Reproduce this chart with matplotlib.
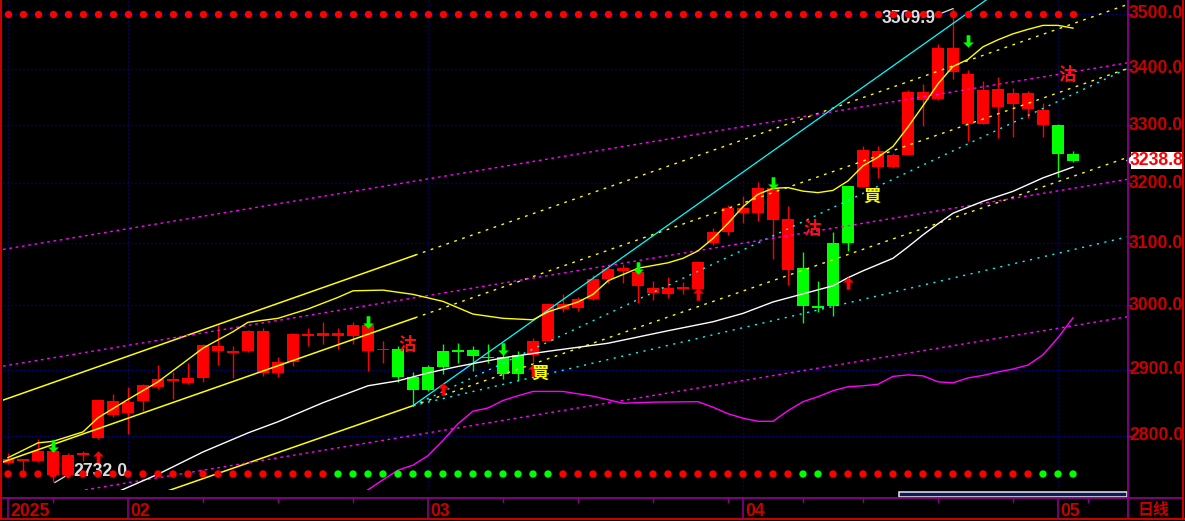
import numpy as np
import matplotlib
matplotlib.use("Agg")
import matplotlib.pyplot as plt
import matplotlib.transforms as mtrans
from matplotlib.path import Path
from matplotlib.patches import Rectangle, Polygon
from matplotlib.lines import Line2D

# ---------------- data ----------------
opens = [2760.0, 2763.2, 2762.6, 2743.2, 2743.2, 2772.3, 2797.5, 2831.6, 2833.6, 2851.7,
         2873.8, 2882.1, 2879.8, 2887.8, 2927.9, 2925.9, 2929.0, 2895.3, 2895.3, 2912.3,
         2951.3, 2951.6, 2951.6, 2951.3, 2929.0, 2929.8, 2932.1, 2888.4, 2903.7, 2929.0,
         2929.8, 2930.6, 2920.0, 2920.0, 2922.3, 2922.5, 2944.6, 2994.5, 2996.6, 3010.5,
         3042.7, 3055.2, 3030.3, 3019.4, 3019.0, 3026.6, 3026.9, 3100.5, 3119.5, 3149.7,
         3149.7, 3139.5, 3057.3, 3060.5, 2999.7, 3100.8, 3196.2, 3194.2, 3228.4, 3228.4,
         3249.0, 3343.9, 3345.7, 3394.9, 3302.8, 3302.8, 3332.4, 3337.7, 3328.8, 3300.5,
         3300.5, 3250.7]
highs = [2774.8, 2766.5, 2795.2, 2779.6, 2774.2, 2777.5, 2854.0, 2863.3, 2872.7, 2878.3,
         2907.2, 2895.6, 2910.8, 2939.0, 2969.1, 2936.8, 2960.7, 2964.9, 2919.2, 2957.1,
         2964.9, 2974.3, 2964.9, 2974.6, 2977.4, 2943.5, 2936.8, 2896.1, 2906.9, 2939.6,
         2940.7, 2936.8, 2939.6, 2927.5, 2928.2, 2949.0, 3003.0, 3018.5, 3012.9, 3048.9,
         3063.7, 3066.9, 3066.9, 3039.5, 3044.8, 3037.4, 3071.8, 3126.2, 3164.2, 3179.2,
         3202.6, 3206.0, 3162.5, 3085.8, 3039.5, 3118.8, 3196.5, 3264.4, 3263.2, 3251.9,
         3361.9, 3373.6, 3445.3, 3509.9, 3397.9, 3378.4, 3385.0, 3366.0, 3360.2, 3339.0,
         3302.2, 3254.6]
lows = [2759.2, 2747.6, 2762.1, 2732.0, 2738.4, 2762.6, 2795.6, 2827.9, 2803.0, 2837.7,
        2870.8, 2855.7, 2877.3, 2880.3, 2907.8, 2887.8, 2926.7, 2890.8, 2888.9, 2906.2,
        2935.7, 2939.9, 2931.4, 2939.1, 2898.3, 2909.4, 2880.3, 2845.2, 2868.0, 2893.4,
        2910.9, 2898.3, 2910.9, 2886.3, 2883.6, 2912.3, 2944.0, 2989.9, 2991.4, 3008.9,
        3035.5, 3035.8, 3004.5, 3008.9, 3012.1, 3018.5, 3026.5, 3097.6, 3114.2, 3133.0,
        3137.5, 3075.0, 3033.1, 2971.9, 2990.3, 2983.6, 3087.9, 3194.0, 3210.0, 3226.6,
        3248.5, 3299.3, 3345.0, 3382.3, 3273.5, 3302.5, 3277.0, 3280.4, 3312.0, 3279.4,
        3211.7, 3236.0]
closes = [2766.1, 2766.1, 2778.2, 2778.2, 2772.3, 2774.2, 2853.2, 2852.7, 2851.2, 2875.8,
          2885.8, 2885.8, 2887.3, 2938.4, 2936.8, 2927.9, 2959.1, 2959.1, 2911.9, 2955.5,
          2955.5, 2957.1, 2957.1, 2969.6, 2969.6, 2932.1, 2889.3, 2868.2, 2868.2, 2904.4,
          2927.8, 2921.2, 2918.4, 2893.4, 2893.4, 2944.6, 3002.4, 3002.4, 3010.5, 3042.7,
          3058.9, 3059.4, 3054.0, 3028.2, 3027.4, 3028.7, 3070.2, 3119.5, 3159.2, 3159.2,
          3192.5, 3192.5, 3140.8, 2999.7, 2995.3, 2999.7, 3100.8, 3257.6, 3255.8, 3249.0,
          3358.9, 3358.9, 3438.0, 3438.0, 3390.8, 3362.5, 3364.2, 3357.2, 3357.2, 3327.1,
          3250.7, 3238.8]

# moving averages (candle index, value)
white_idx = [7, 8, 10, 13, 16, 18, 21, 24, 26, 28, 30, 33, 36, 40, 44, 47, 49, 51, 53, 55,
             56, 57, 59, 60, 61, 62, 63, 65, 67, 69, 71]
white_val = [2715.5, 2725.0, 2743.9, 2776.4, 2804.5, 2821.1, 2849.7, 2875.3, 2882.8, 2894.9,
             2904.8, 2918.1, 2928.2, 2940.7, 2960.2, 2974.3, 2987.5, 3005.6, 3018.5, 3031.4,
             3044.4, 3055.5, 3075.8, 3094.4, 3114.2, 3132.5, 3150.0, 3170.0, 3186.7, 3209.5,
             3227.8]

yma_idx = [0, 2, 3, 5, 6, 8, 10, 12, 13, 15, 16, 18, 20, 22, 23, 25, 27, 29, 31, 33,
           35, 36, 38, 39, 40, 42, 44, 45, 46, 47, 48, 49, 50, 51, 52, 53, 54, 55, 56, 57,
           58, 59, 60, 61, 62, 63, 64, 65, 66, 67, 68, 69, 70, 71]
yma_val = [2768.0, 2789.8, 2792.0, 2806.0, 2827.1, 2854.6, 2881.3, 2915.6, 2933.2, 2958.7,
           2973.5, 2979.7, 2994.5, 3012.9, 3023.4, 3024.5, 3017.7, 3006.5, 2986.4, 2979.7,
           2977.4, 2989.9, 3005.6, 3017.7, 3039.5, 3059.7, 3068.5, 3075.8, 3087.9, 3108.3,
           3133.3, 3160.8, 3181.7, 3191.7, 3193.0, 3187.0, 3184.5, 3188.3, 3204.3, 3230.1,
           3244.7, 3263.2, 3297.1, 3334.2, 3373.1, 3404.2, 3417.0, 3439.8, 3452.6, 3463.5,
           3471.7, 3479.0, 3479.0, 3473.9]

mag_idx = [23, 24, 25, 26, 27, 28, 29, 30, 31, 32, 33, 34, 35, 37, 39, 41, 43, 46, 47, 48,
           49, 50, 51, 52, 53, 54, 55, 56, 57, 58, 59, 60, 61, 62, 63, 64, 65, 66, 67, 68,
           69, 70, 71]
mag_val = [2709.6, 2721.4, 2735.9, 2749.8, 2757.1, 2770.9, 2793.4, 2818.1, 2836.9, 2841.7,
           2853.0, 2860.2, 2866.7, 2866.7, 2859.5, 2848.9, 2850.5, 2851.2, 2842.9, 2833.1,
           2826.4, 2821.8, 2821.8, 2837.7, 2851.2, 2858.7, 2867.8, 2873.8, 2875.3, 2877.6,
           2889.6, 2891.9, 2890.4, 2881.3, 2879.8, 2887.3, 2891.1, 2896.4, 2900.9, 2907.0,
           2922.8, 2949.3, 2980.5]

# straight trend lines: two anchor points (candle index, price)
chan_upper = [(0, 2856.2), (71, 3482.1)]
chan_mid = [(0, 2764.3), (71, 3366.4)]
chan_low = [(27, 2845.2), (71, 3212.0)]
fan_solid = [(27, 2845.2), (65, 3521.9)]
fan_up = [(27, 2845.2), (71, 3354.5)]
fan_low = [(27, 2845.2), (71, 3089.8)]
mag_line_up = [(0, 3091.6), (71, 3394.5)]
mag_line_mid = [(0, 2906.6), (71, 3191.7)]
mag_line_low = [(8, 2731.6), (71, 2968.0)]

# signal markers
red_up_idx = [6, 29, 35, 46, 56]
red_up_price = [2768.7, 2870.0, 2899.4, 3018.5, 3036.3]
green_dn_idx = [3, 24, 33, 42, 51, 64]
green_dn_price = [2784.6, 2973.5, 2931.0, 3060.5, 3200.0, 3450.8]
sell_idx = [26.6, 53.6, 70.6]
sell_price = [2938.4, 3124.2, 3388.1]
buy_idx = [35.5, 57.6]
buy_price = [2894.1, 3176.7]
bottom_green = [0] * 22 + [1] * 15 + [0] * 16 + [1] * 2 + [0] * 14 + [1] * 3

month_labels = ["2025", "02", "03", "04", "05"]
month_start = [0, 8, 28, 49, 70]
week_ticks = [3, 13, 18, 23, 33, 38, 43, 48, 53, 57, 62, 67, 72]
price_ticks = [2800, 2900, 3000, 3100, 3200, 3300, 3400, 3500]
high_label = 3509.9
low_label = 2732.0
last_price = 3238.8

# ---------------- figure ----------------
W, H = 1185, 521
fig = plt.figure(figsize=(W / 100, H / 100), dpi=100, facecolor="black")


def fx(px):
    return px / W


def fy(py):
    return 1 - py / H


XL, XR = -0.333, 74.6
ax = fig.add_axes([fx(3), fy(490), (1127 - 3) / W, 490 / H])
ax.set_facecolor("black")
ax.set_yscale("log")
ax.set_xlim(XL, XR)
ax.set_ylim(2721.1, 3526.0)
ax.axis("off")

NUM = "Liberation Sans"
DARKRED = "#c80000"
PURPLE = "#8a008a"
GRID = "#0000b0"

# grid
for p in price_ticks:
    ax.axhline(p, color=GRID, lw=0.9, ls=(0, (1, 2.2)), zorder=0)
for m in month_start:
    ax.axvline(m, color=GRID, lw=0.9, ls=(0, (1, 2.2)), zorder=0)

# candles
o = np.array(opens); c = np.array(closes)
hi = np.array(highs); lo = np.array(lows)
idx = np.arange(len(o))
cols = np.where(c >= o, "#ff0000", "#00ff00")
ax.vlines(idx, lo, hi, colors=cols, lw=1.0, zorder=3)
blo = np.minimum(o, c); bhi = np.maximum(o, c)
ax.bar(idx, bhi - blo, bottom=blo, width=0.8, color=cols, lw=0, zorder=4)


def seg(line, x0, x1):
    (a, pa), (b, pb) = line
    la, lb = np.log(pa), np.log(pb)
    xs = np.array([x0, x1])
    return xs, np.exp(la + (xs - a) / (b - a) * (lb - la))


SPLIT = 27.13
YEL, CYA, MAG = "#ffff00", "#00ffff", "#ff00ff"
# channel lines (solid left part, dotted continuation)
for ln in (chan_upper, chan_mid):
    ax.plot(*seg(ln, XL, SPLIT), color=YEL, lw=1.1, zorder=5)
    ax.plot(*seg(ln, SPLIT, XR), color=YEL, lw=1.0, ls=(0, (2, 4)), zorder=5)
ax.plot(*seg(chan_low, XL, 27), color=YEL, lw=1.1, zorder=5)
ax.plot(*seg(chan_low, 27, XR), color=YEL, lw=1.0, ls=(0, (2, 4)), zorder=5)
# fan
ax.plot(*seg(fan_solid, 27, XR), color=CYA, lw=0.9, zorder=5)
ax.plot(*seg(fan_up, 27, XR), color=CYA, lw=1.0, ls=(0, (1.5, 4)), zorder=5)
ax.plot(*seg(fan_low, 27, XR), color=CYA, lw=1.0, ls=(0, (1.5, 4)), zorder=5)
# magenta dotted lines
for ln in (mag_line_up, mag_line_mid, mag_line_low):
    ax.plot(*seg(ln, XL, XR), color=MAG, lw=1.0, ls=(0, (2, 2.6)), zorder=5)

# moving averages
ax.plot(white_idx, white_val, color="white", lw=1.0, zorder=6)
ax.plot(yma_idx, yma_val, color=YEL, lw=1.0, zorder=6)
ax.plot(mag_idx, mag_val, color=MAG, lw=1.0, zorder=6)

# arrows
up_arrow = Path([(0, 1), (-0.85, 0.15), (-0.3, 0.15), (-0.3, -1), (0.3, -1),
                 (0.3, 0.15), (0.85, 0.15), (0, 1)], closed=True)
dn_arrow = Path([(0, -1), (-0.85, -0.15), (-0.3, -0.15), (-0.3, 1), (0.3, 1),
                 (0.3, -0.15), (0.85, -0.15), (0, -1)], closed=True)
ax.plot(red_up_idx, red_up_price, ls="none", marker=up_arrow, ms=9,
        color="#ff0000", mew=0, zorder=7)
ax.plot(green_dn_idx, green_dn_price, ls="none", marker=dn_arrow, ms=9,
        color="#00ff00", mew=0, zorder=7)

CJK = ["Noto Sans CJK TC", "Noto Sans CJK SC", "DejaVu Sans"]
for xi, p in zip(sell_idx, sell_price):
    ax.text(xi, p, "沽", color="#ff1010", fontsize=12.5, fontweight="bold",
            family=CJK, ha="center", va="center", zorder=8)
for xi, p in zip(buy_idx, buy_price):
    ax.text(xi, p, "買", color="#ffff00", fontsize=12.5, fontweight="bold",
            family=CJK, ha="center", va="center", zorder=8)

# high / low labels
ax.plot([61.93, 63], [3498.2, high_label], color="#e0e0e0", lw=0.9, zorder=7)
ax.text(61.85, 3491.8, f"{high_label:.1f}", color="#dcdcdc", fontsize=12.7,
        fontweight="bold", family=NUM, ha="right", va="center", zorder=7)
ax.plot([3.13, 3.8], [low_label, 2740.7], color="#e0e0e0", lw=0.9, zorder=7)
ax.text(4.33, 2747.6, f"{low_label:.1f}", color="#dcdcdc", fontsize=12.7,
        fontweight="bold", family=NUM, ha="left", va="center", zorder=7)

# signal dots rows
bt = mtrans.blended_transform_factory(ax.transData, ax.transAxes)
ax.scatter(idx, np.full(len(idx), (490 - 14) / 490), s=28, c="#ff0000",
           transform=bt, zorder=9, lw=0, clip_on=False)
ax.scatter(idx, np.full(len(idx), (490 - 474) / 490), s=28,
           c=["#00ff00" if g else "#ff0000" for g in bottom_green],
           transform=bt, zorder=9, lw=0, clip_on=False)

# ---------------- frame, axis band ----------------
ft = fig.transFigure
fig.add_artist(Line2D([fx(0), fx(1183)], [fy(498), fy(498)], color=PURPLE, lw=1.3, transform=ft))
fig.add_artist(Line2D([fx(1127.5), fx(1127.5)], [fy(0), fy(518)], color=PURPLE, lw=1.3, transform=ft))
fig.add_artist(Line2D([fx(1.2), fx(1.2)], [fy(0), fy(519)], color="#d00000", lw=1.4, transform=ft))
fig.add_artist(Line2D([fx(0), fx(1184)], [fy(518.5), fy(518.5)], color="#d00000", lw=1.4, transform=ft))
fig.add_artist(Line2D([fx(1182.8), fx(1182.8)], [fy(0), fy(519)], color="#d00000", lw=1.4, transform=ft))

# scroll bar
fig.add_artist(Rectangle((fx(898.5), fy(497)), 228 / W, 5.5 / H, transform=ft,
                         facecolor="#0b1a5c", edgecolor="#d8d8d8", lw=1.2))

# month separators and labels
xt = mtrans.blended_transform_factory(ax.transData, ft)
xt_off = mtrans.offset_copy(xt, fig=fig, x=2, y=0, units="dots")
for m, lab in zip(month_start, month_labels):
    fig.add_artist(Line2D([m, m], [fy(498), fy(518)], color=PURPLE, lw=1.2, transform=xt))
    fig.text(m, fy(511), lab, color=DARKRED, fontsize=12.7, fontweight="bold", family=NUM,
             ha="left", va="center", transform=xt_off)
for w in week_ticks:
    fig.add_artist(Line2D([w, w], [fy(498), fy(501.5)], color=PURPLE, lw=1.0, transform=xt))

fig.text(fx(1154), fy(510), "日线", color=DARKRED, fontsize=11.5, fontweight="bold",
         family=["Noto Sans CJK SC", "DejaVu Sans"], ha="center", va="center")

# right price axis
yt = mtrans.blended_transform_factory(ft, ax.transData)
for p in price_ticks:
    fig.text(fx(1129), p, f"{p:.1f}", color=DARKRED, fontsize=12.7, fontweight="bold",
             family=NUM, ha="left", va="center", transform=yt)
    fig.add_artist(Line2D([fx(1127), fx(1132)], [p, p], color=PURPLE, lw=1.0, transform=yt))

# last price tag
fig.add_artist(Rectangle((fx(1131), fy(169)), 52 / W, 17 / H, transform=ft,
                         facecolor="white", edgecolor="none"))
fig.add_artist(Polygon([(fx(1126), fy(160.5)), (fx(1131.5), fy(156)), (fx(1131.5), fy(165))],
                       closed=True, transform=ft, facecolor="white", edgecolor="none"))
fig.text(fx(1157), fy(160.5), f"{last_price:.1f}", color="#ff0000", fontsize=12.7,
         fontweight="bold", family=NUM, ha="center", va="center")

fig.savefig("out.png", dpi=100, facecolor="black")
